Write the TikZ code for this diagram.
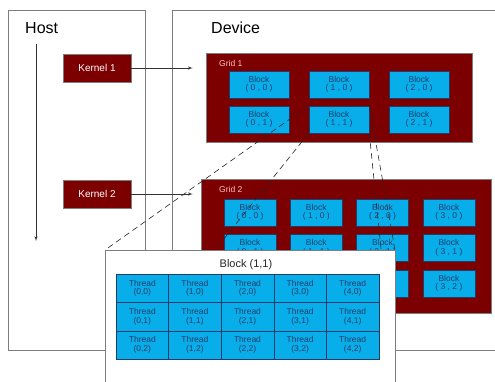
\documentclass[tikz,border=0pt]{standalone}
\usepackage{fontspec}
\setmainfont{Liberation Sans}
\usetikzlibrary{arrows}
\definecolor{gridred}{RGB}{125,0,0}
\definecolor{blockblue}{RGB}{8,174,234}
\definecolor{blocktext}{RGB}{35,60,105}
\definecolor{boxgray}{RGB}{125,125,125}

\begin{document}
\begin{tikzpicture}
	[x=1pt,y=-1pt,every node/.style={inner sep=0pt}]
	\tikzset{edge/.style = {->,> = latex',draw=black!80,line width=0.6pt}}
	\tikzset{box/.style = {draw=boxgray,fill=white,line width=0.8pt}}
	\tikzset{grid/.style = {draw=boxgray,fill=gridred,line width=0.5pt}}
	\tikzset{kernel/.style = {draw=boxgray,fill=gridred,text=white,minimum width=68pt,minimum height=28pt,font=\fontsize{10}{10}\selectfont}}
	\tikzset{block/.style = {draw=blocktext,fill=blockblue,text=blocktext,align=center,line width=0.6pt,font=\fontsize{8.5}{8.5}\selectfont}}
	\tikzset{zoomline/.style = {draw=black!85,line width=0.6pt,dash pattern=on 6pt off 4pt}}
	\clip (0,0) rectangle (495,381);
	\fill[white] (0,0) rectangle (495,381);
	
	\node[box,minimum width=137pt,minimum height=340pt] (host) at (76.5,180) {};
	\node[box,minimum width=338pt,minimum height=340pt] (dev) at (341,180) {};
	\node[anchor=base west,font=\fontsize{16}{16}\selectfont] (hostl) at (25,33) {Host};
	\node[anchor=base west,font=\fontsize{16}{16}\selectfont] (devl) at (211,33) {Device};
	
	\coordinate (ht) at (36,44);
	\coordinate (hb) at (36,241);
	\draw[edge] (ht) -- (hb);
	
	\node[kernel] (k1) at (97,68) {Kernel 1};
	\node[kernel] (k2) at (97,194) {Kernel 2};
	
	% grid 1
	\node[grid,minimum width=266pt,minimum height=89pt] (g1) at (339,97.5) {};
	\node[anchor=base west,text=red!25,font=\fontsize{8.5}{8.5}\selectfont] (g1l) at (219,66) {Grid 1};
	\foreach \i in {0,1,2}
	\foreach \j in {0,1}
	\node[block,minimum width=60pt,minimum height=27pt] (a\i\j) at (259+80*\i,84.5+35*\j) {Block\\( \i\ , \j\ )};
	
	% grid 2 (blocks (0,2) and (1,2) lie wholly under the zoom box)
	\node[grid,minimum width=290pt,minimum height=134pt] (g2) at (346,246) {};
	\node[anchor=base west,text=red!25,font=\fontsize{8.5}{8.5}\selectfont] (g2l) at (219,192) {Grid 2};
	\foreach \i/\j in {0/0,1/0,2/0,3/0,0/1,1/1,2/1,3/1,2/2,3/2}
	\node[block,minimum width=52pt,minimum height=27pt] (b\i\j) at (250+66.3*\i,212.5+35.5*\j) {Block\\( \i\ , \j\ )};
	
	\draw[edge] (k1.east) -- ([xshift=-13pt]k1.east -| g1.west);
	\draw[edge] (k2.east) -- ([xshift=-8pt]k2.east -| g2.west);
	
	% zoom of block (1,1)
	\coordinate (znw) at (105,250);
	\coordinate (zsw) at (105,387);
	\coordinate (zne) at (395,250);
	\coordinate (zse) at (395,387);
	\draw[zoomline] (a11.north west) -- (znw);
	\draw[zoomline] (a11.south west) -- (zsw);
	\draw[zoomline] (a11.north east) -- (zne);
	\draw[zoomline] (a11.south east) -- (zse);
	\node[box,minimum width=290pt,minimum height=137pt] (zoom) at (250,318.5) {};
	\node[font=\fontsize{11}{11}\selectfont,text=black!85] (zooml) at (246,265) {Block (1,1)};
	\foreach \i in {0,...,4}
	\foreach \j in {0,1,2}
	\node[block,minimum width=52.6pt,minimum height=28.4pt] (t\i\j) at (142.3+52.6*\i,288.2+28.4*\j) {Thread\\(\i,\j)};
\end{tikzpicture}
\end{document}
